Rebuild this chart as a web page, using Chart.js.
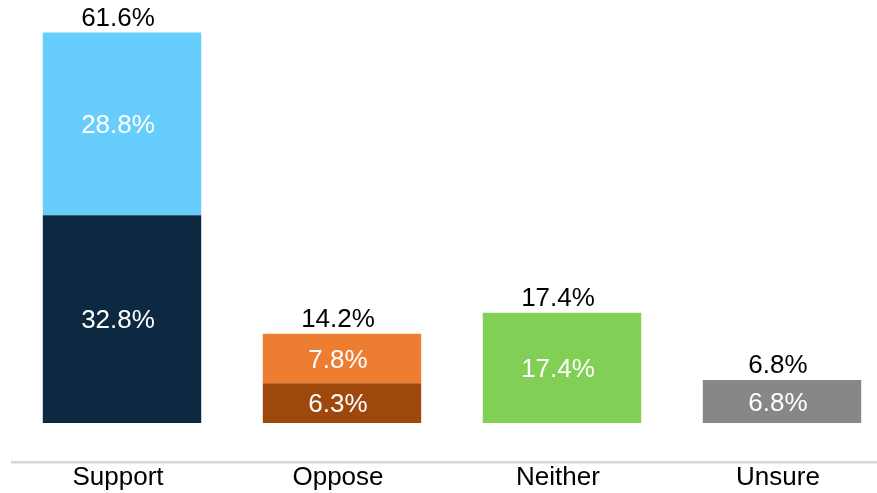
<!DOCTYPE html>
<html>
<head>
<meta charset="utf-8">
<script src="https://cdn.jsdelivr.net/npm/chart.js@4/dist/chart.umd.min.js"></script>
<style>
  html, body { margin: 0; padding: 0; overflow: hidden; background: #fff; }
  #wrap { position: absolute; left: 0; top: 0; width: 892px; height: 493px; }
</style>
</head>
<body>
<div id="wrap"><canvas id="myChart"></canvas></div>
<script>
var categories = ["Support", "Oppose", "Neither", "Unsure"];
var lowerValues = [32.8, 6.3, 17.4, 6.8];
var upperValues = [28.8, 7.8, null, null];
var totals = [61.6, 14.2, 17.4, 6.8];
var lowerColors = ["#0d2841", "#9e480e", "#82cf55", "#878787"];
var upperColors = ["#66cdfc", "#ed7d31", "#82cf55", "#878787"];

var FONT = "Liberation Sans, Arial, sans-serif";
var SHIFT = -4; // text sits a little left of the bar centres in the original

// draws the values inside the bars and the totals above them
var labelPlugin = {
  id: "barLabels",
  afterDatasetsDraw: function(chart) {
    var ctx = chart.ctx;
    ctx.save();
    ctx.font = "26px " + FONT;
    ctx.textAlign = "center";
    ctx.textBaseline = "middle";
    ctx.fillStyle = "#ffffff";
    chart.data.datasets.forEach(function(ds, d) {
      var meta = chart.getDatasetMeta(d);
      meta.data.forEach(function(bar, i) {
        var v = ds.data[i];
        if (v == null) return;
        ctx.fillText(v.toFixed(1) + "%", bar.x + SHIFT, (bar.y + bar.base) / 2 + 2);
      });
    });
    ctx.fillStyle = "#000000";
    for (var i = 0; i < totals.length; i++) {
      var top = null, x = 0;
      chart.data.datasets.forEach(function(ds, d) {
        if (ds.data[i] == null) return;
        var bar = chart.getDatasetMeta(d).data[i];
        if (top === null || bar.y < top) { top = bar.y; x = bar.x; }
      });
      ctx.fillText(totals[i].toFixed(1) + "%", x + SHIFT, top - 14);
    }
    ctx.restore();
  }
};

var ctx = document.getElementById("myChart");
var myChart = new Chart(ctx, {
  type: "bar",
  data: {
    labels: categories,
    datasets: [{
      data: lowerValues,
      backgroundColor: lowerColors,
      barPercentage: 0.72,
      categoryPercentage: 1
    }, {
      data: upperValues,
      backgroundColor: upperColors,
      barPercentage: 0.72,
      categoryPercentage: 1
    }]
  },
  options: {
    responsive: true,
    maintainAspectRatio: false,
    animation: false,
    layout: { padding: { top: 30, left: 12, right: 0, bottom: 0 } },
    plugins: {
      legend: { display: false },
      tooltip: { enabled: false }
    },
    scales: {
      x: {
        stacked: true,
        grid: { display: false, drawTicks: false },
        border: { display: true, color: "#d6d6d6", width: 2.5 },
        ticks: { padding: 1, labelOffset: SHIFT, color: "#000000", font: { family: FONT, size: 26, lineHeight: 1.1 } }
      },
      y: {
        stacked: true,
        display: false,
        min: -6.2,
        max: 62
      }
    }
  },
  plugins: [labelPlugin]
});
</script>
</body>
</html>
